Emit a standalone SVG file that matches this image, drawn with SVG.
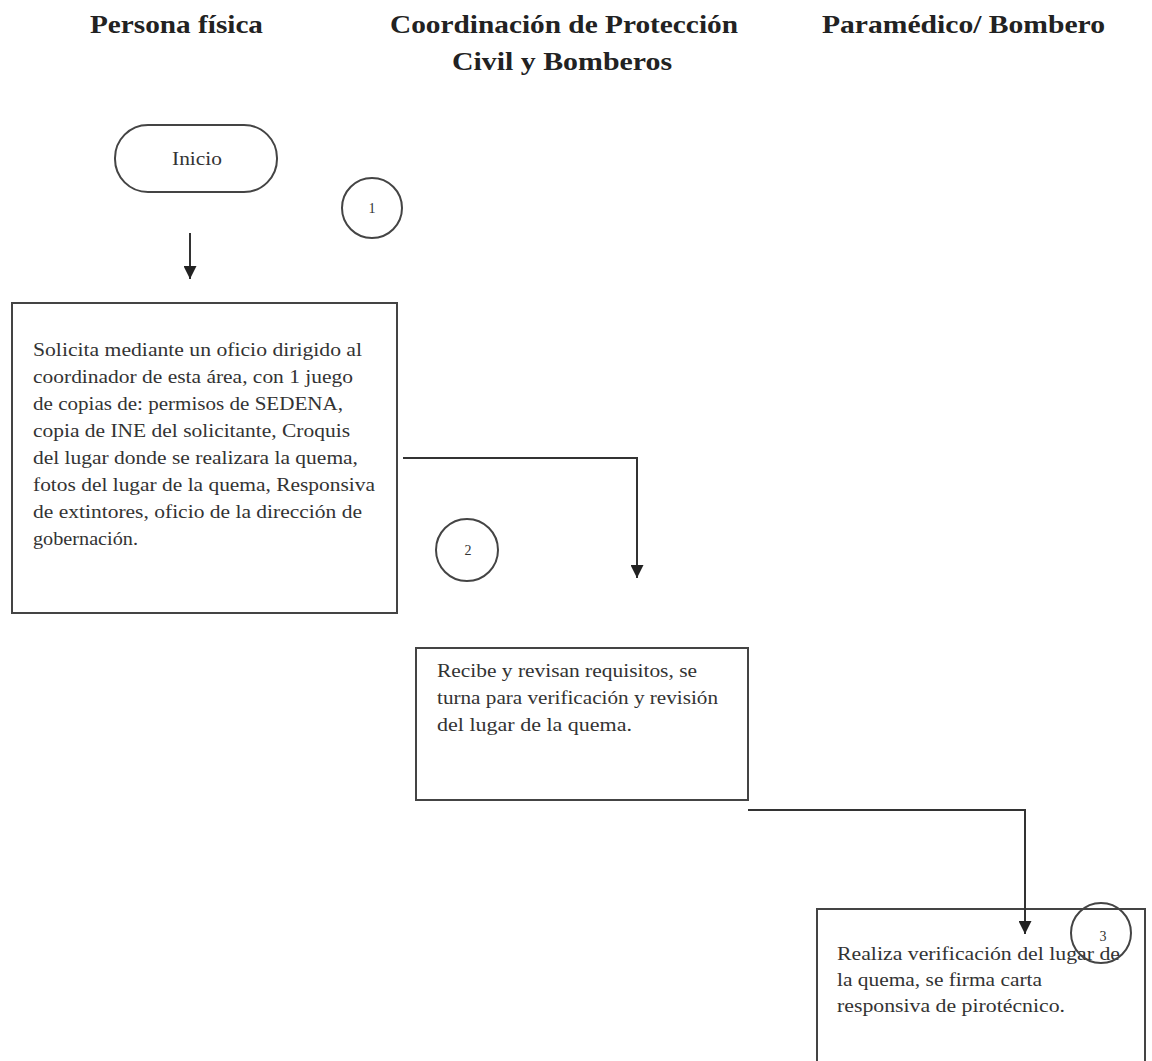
<svg xmlns="http://www.w3.org/2000/svg" width="1152" height="1061" viewBox="0 0 1152 1061">
<style>
.hdr{font-family:"Liberation Serif","Times New Roman",serif;font-weight:bold;font-size:26px;fill:#222}
.txt{font-family:"Liberation Serif","Times New Roman",serif;font-size:18px;fill:#333}
.num{font-family:"Liberation Serif","Times New Roman",serif;font-size:14px;fill:#333;text-anchor:middle}
.box{fill:#fff;stroke:#444;stroke-width:2}
.conn{fill:none;stroke:#333;stroke-width:2}
</style>
<defs>
<marker id="ah" viewBox="0 0 10 10" refX="10" refY="5" markerWidth="6.5" markerHeight="6.5" orient="auto" markerUnits="strokeWidth">
<path d="M0,0 L10,5 L0,10 z" fill="#222"/>
</marker>
</defs>
<rect width="1152" height="1061" fill="#fff"/>
<g id="headers">
<text class="hdr" x="90" y="33" textLength="173" lengthAdjust="spacingAndGlyphs">Persona física</text>
<text class="hdr" x="390" y="33" textLength="348" lengthAdjust="spacingAndGlyphs">Coordinación de Protección</text>
<text class="hdr" x="452" y="70" textLength="220" lengthAdjust="spacingAndGlyphs">Civil y Bomberos</text>
<text class="hdr" x="822" y="33" textLength="283" lengthAdjust="spacingAndGlyphs">Paramédico/ Bombero</text>
</g>
<g id="inicio">
<rect class="box" x="115" y="125" width="162" height="67" rx="33" ry="33"/>
<text class="txt" x="172" y="165" font-size="16" textLength="50" lengthAdjust="spacingAndGlyphs">Inicio</text>
</g>
<g id="step1">
<circle class="box" cx="372" cy="208" r="30"/>
<text class="num" x="372" y="213">1</text>
</g>
<g id="solicita">
<rect class="box" x="12" y="303" width="385" height="310"/>
<text class="txt" x="33" y="356" textLength="329" lengthAdjust="spacingAndGlyphs">Solicita mediante un oficio dirigido al</text>
<text class="txt" x="33" y="383" textLength="320" lengthAdjust="spacingAndGlyphs">coordinador de esta área, con 1 juego</text>
<text class="txt" x="33" y="410" textLength="310" lengthAdjust="spacingAndGlyphs">de copias de: permisos de SEDENA,</text>
<text class="txt" x="33" y="437" textLength="317" lengthAdjust="spacingAndGlyphs">copia de INE del solicitante, Croquis</text>
<text class="txt" x="33" y="464" textLength="325" lengthAdjust="spacingAndGlyphs">del lugar donde se realizara la quema,</text>
<text class="txt" x="33" y="491" textLength="342" lengthAdjust="spacingAndGlyphs">fotos del lugar de la quema, Responsiva</text>
<text class="txt" x="33" y="518" textLength="329" lengthAdjust="spacingAndGlyphs">de extintores, oficio de la dirección de</text>
<text class="txt" x="33" y="545" textLength="105" lengthAdjust="spacingAndGlyphs">gobernación.</text>
</g>
<g id="step2">
<circle class="box" cx="467" cy="550" r="31"/>
<text class="num" x="468" y="555">2</text>
</g>
<g id="recibe">
<rect class="box" x="416" y="648" width="332" height="152"/>
<text class="txt" x="437" y="677" textLength="260" lengthAdjust="spacingAndGlyphs">Recibe y revisan requisitos, se</text>
<text class="txt" x="437" y="704" textLength="281" lengthAdjust="spacingAndGlyphs">turna para verificación y revisión</text>
<text class="txt" x="437" y="731" textLength="195" lengthAdjust="spacingAndGlyphs">del lugar de la quema.</text>
</g>
<g id="realiza">
<rect class="box" x="817" y="909" width="328" height="170"/>
<text class="txt" x="837" y="960" textLength="283" lengthAdjust="spacingAndGlyphs">Realiza verificación del lugar de</text>
<text class="txt" x="837" y="986" textLength="205" lengthAdjust="spacingAndGlyphs">la quema, se firma carta</text>
<text class="txt" x="837" y="1012" textLength="228" lengthAdjust="spacingAndGlyphs">responsiva de pirotécnico.</text>
</g>
<g id="step3">
<circle cx="1101" cy="933" r="30" fill="none" stroke="#444" stroke-width="2"/>
<text class="num" x="1103" y="941">3</text>
</g>
<g id="connectors">
<line class="conn" x1="190" y1="233" x2="190" y2="279" marker-end="url(#ah)"/>
<polyline class="conn" points="403,458 637,458 637,578" marker-end="url(#ah)"/>
<polyline class="conn" points="748,810 1025,810 1025,934" marker-end="url(#ah)"/>
</g>
</svg>
